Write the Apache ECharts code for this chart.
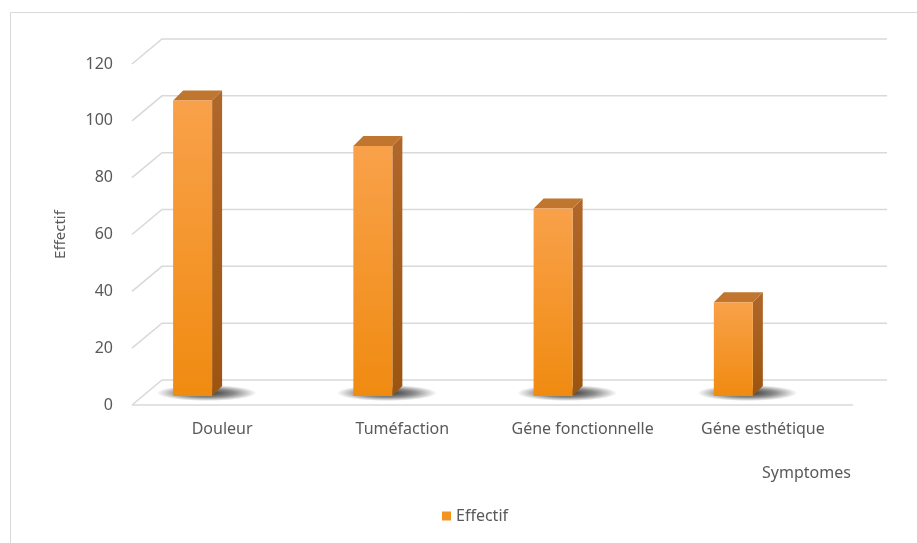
<!DOCTYPE html>
<html>
<head>
<meta charset="utf-8">
<script src="https://cdn.jsdelivr.net/npm/echarts@6/dist/echarts.min.js"></script>
<style>
  html, body { margin: 0; padding: 0; background: #ffffff; }
  #chart { width: 917px; height: 543px; }
</style>
</head>
<body>
<div id="chart"></div>
<script>
// Symptom counts
const categories = ['Douleur', 'Tuméfaction', 'Géne fonctionnelle', 'Géne esthétique'];
const effectif = [104, 88, 66, 33];
const wallTicks = [0, 20, 40, 60, 80, 100, 120];

const FONT = '"Noto Sans", sans-serif';
const TEXT = '#595959';
const GRID = '#d9d9d9';

// depth of the back wall and of the bar plane (pixels, oblique projection)
const WALL_DX = 30, WALL_DY = -25;
const BAR_DY = -9, BAR_DEPTH_X = 10, BAR_DEPTH_Y = -10;

const chart = echarts.init(document.getElementById('chart'));

function renderWall(params, api) {
  const cs = params.coordSys;
  const t = api.value(0);
  const y = api.coord([0, t])[1];
  const children = [{
    type: 'polyline',
    shape: { points: [[cs.x, y], [cs.x + WALL_DX, y + WALL_DY], [cs.x + cs.width + 34, y + WALL_DY]] },
    style: { stroke: GRID, lineWidth: 1.5, fill: null }
  }];
  if (t === 0) {
    children.push({
      type: 'line',
      shape: { x1: cs.x, y1: y, x2: cs.x + cs.width, y2: y },
      style: { stroke: GRID, lineWidth: 1.5 }
    });
  }
  return { type: 'group', children: children };
}

function renderBar(params, api) {
  const idx = api.value(0);
  const top = api.coord([idx, api.value(1)]);
  const base = api.coord([idx, 0]);
  const band = api.size([1, 0])[0];
  const L = top[0] - band * 0.272;
  const R = L + 39;
  const T = top[1] + BAR_DY;
  const B = base[1] + BAR_DY;
  const dx = BAR_DEPTH_X, dy = BAR_DEPTH_Y;
  return {
    type: 'group',
    children: [
      {
        type: 'circle',
        shape: { cx: 0, cy: 0, r: 1 },
        x: (L + R) / 2 + 14, y: B - 3, scaleX: 50, scaleY: 8,
        style: {
          fill: new echarts.graphic.RadialGradient(0.5, 0.5, 0.5, [
            { offset: 0, color: 'rgba(0,0,0,0.8)' },
            { offset: 0.55, color: 'rgba(0,0,0,0.45)' },
            { offset: 1, color: 'rgba(0,0,0,0)' }
          ])
        }
      },
      {
        type: 'polygon',
        shape: { points: [[R, T], [R + dx, T + dy], [R + dx, B + dy], [R, B]] },
        style: {
          fill: new echarts.graphic.LinearGradient(0, 0, 0, 1, [
            { offset: 0, color: '#b0672a' },
            { offset: 1, color: '#9c5510' }
          ])
        }
      },
      {
        type: 'polygon',
        shape: { points: [[L, T], [R, T], [R + dx, T + dy], [L + dx, T + dy]] },
        style: { fill: '#c0762f' }
      },
      {
        type: 'rect',
        shape: { x: L, y: T, width: R - L, height: B - T },
        style: {
          fill: new echarts.graphic.LinearGradient(0, 0, 0, 1, [
            { offset: 0, color: '#f9a14a' },
            { offset: 1, color: '#f08b11' }
          ])
        }
      }
    ]
  };
}

chart.setOption({
  backgroundColor: '#ffffff',
  animation: false,
  textStyle: { fontFamily: FONT },
  grid: { left: 132, right: 64, top: 64, bottom: 138 },
  legend: {
    bottom: 14,
    left: 437,
    itemWidth: 9,
    itemHeight: 9,
    itemGap: 6,
    icon: 'rect',
    textStyle: { color: TEXT, fontSize: 16, fontFamily: FONT },
    data: ['Effectif']
  },
  xAxis: {
    type: 'category',
    data: categories,
    axisLine: { show: false },
    axisTick: { show: false },
    axisLabel: { color: TEXT, fontSize: 16, fontFamily: FONT, margin: 16, interval: 0 },
    splitLine: { show: false }
  },
  yAxis: {
    type: 'value',
    min: 0,
    max: 120,
    interval: 20,
    name: 'Effectif',
    nameLocation: 'middle',
    nameRotate: 90,
    nameGap: 64,
    nameTextStyle: { color: TEXT, fontSize: 15, fontFamily: FONT },
    axisLine: { show: false },
    axisTick: { show: false },
    splitLine: { show: false },
    axisLabel: { color: TEXT, fontSize: 16, fontFamily: FONT, margin: 19 }
  },
  graphic: [
    { type: 'line', shape: { x1: 10.5, y1: 12.5, x2: 917, y2: 12.5 }, style: { stroke: '#d9d9d9', lineWidth: 1 } },
    { type: 'line', shape: { x1: 10.5, y1: 12.5, x2: 10.5, y2: 543 }, style: { stroke: '#d9d9d9', lineWidth: 1 } },
    {
      type: 'text', left: 762, top: 465,
      style: { text: 'Symptomes', fill: TEXT, fontSize: 16, fontFamily: FONT }
    }
  ],
  series: [
    {
      type: 'custom',
      name: 'wall',
      silent: true,
      renderItem: renderWall,
      data: wallTicks.map(function (t) { return [t]; }),
      encode: { y: 0 },
      z: 1
    },
    {
      type: 'custom',
      name: 'Effectif',
      renderItem: renderBar,
      itemStyle: { color: '#f39422' },
      data: effectif.map(function (v, i) { return [i, v]; }),
      encode: { x: 0, y: 1 },
      z: 2
    }
  ]
});
</script>
</body>
</html>
